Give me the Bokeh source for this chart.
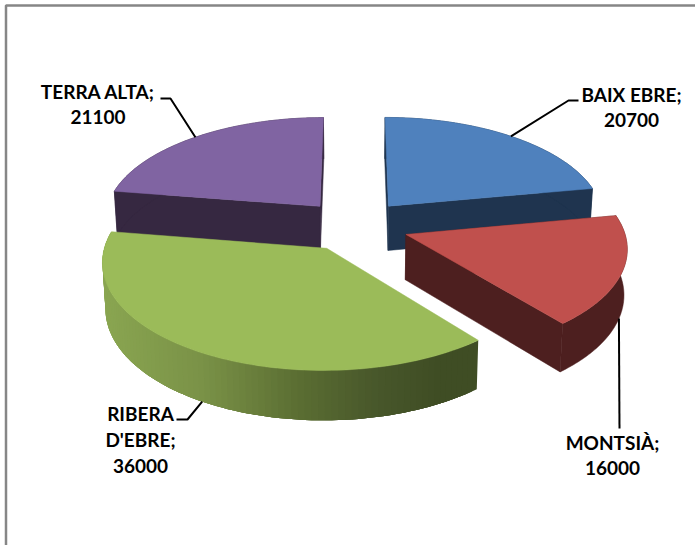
import numpy as np
from bokeh.plotting import figure
from bokeh.embed import file_html
from bokeh.resources import INLINE
from bokeh.core.properties import value
from bokeh.models import Range1d

# --- data
zones = ["BAIX EBRE", "MONTSIÀ", "RIBERA D'EBRE", "TERRA ALTA"]
amounts = [20700, 16000, 36000, 21100]
label_lines = [["BAIX EBRE;", "20700"], ["MONTSIÀ;", "16000"],
               ["RIBERA", "D'EBRE;", "36000"], ["TERRA ALTA;", "21100"]]

# --- style
top_cols = ["#4f81bd", "#c0504d", "#9bbb59", "#8064a2"]
side_cols = ["#1f344f", "#4d1f1f", None, "#362841"]
green_ramp_x = [100, 200, 300, 380, 440, 480]
green_ramp_rgb = [(138, 166, 81), (122, 146, 71), (90, 109, 50), (71, 86, 42), (63, 77, 36), (63, 77, 36)]

# --- layout of the 3D projection (pixels)
XC, YC, A, B, K, EXPL = 354.0, 225.0, 217.0, 102.8, 0.1126, 0.25
HEIGHT, BOT_SCALE = 45.0, 0.988
label_xy = [(631, [94, 119]), (612, [442, 467]), (140, [413, 439, 465]), (97.5, [91, 116])]
elbows = [[(568, 100), (578, 100)], [(619, 428)], [(187, 419), (176, 419)], [(170, 98), (160, 98)]]
leader_on_bottom = [False, True, True, False]

total = sum(amounts)
fracs = np.array(amounts) / total
edges = np.concatenate([[0], np.cumsum(fracs)]) * 2 * np.pi


def project(theta, rad, mid, bottom=False):
    u = EXPL * np.sin(mid) + rad * np.sin(theta)
    v = EXPL * np.cos(mid) + rad * np.cos(theta)
    s = 1 / (1 + K * v)
    x = A * u * s
    y = YC - B * v * s
    if bottom:
        return XC + x * BOT_SCALE, y + HEIGHT * s ** 0.7
    return XC + x, y


p = figure(width=695, height=545, output_backend="svg", toolbar_location=None,
           x_range=Range1d(0, 695), y_range=Range1d(545, 0), min_border=0,
           outline_line_color=None, background_fill_color="white")
p.axis.visible = False
p.grid.visible = False

# chart frame
p.line([5.5, 5.5, 695], [545, 5, 5], line_color="#868686", line_width=2.5)


def green_col(x):
    c = [np.interp(x, green_ramp_x, [r[i] for r in green_ramp_rgb]) for i in range(3)]
    return "#%02x%02x%02x" % tuple(int(round(v)) for v in c)


for i in [3, 0, 1, 2]:
    t0, t1 = edges[i], edges[i + 1]
    mid = (t0 + t1) / 2
    ts = np.linspace(t0, t1, 90)
    xt, yt = project(ts, 1.0, mid)
    xb, yb = project(ts, 1.0, mid, bottom=True)
    ax, ay = project(mid, 0.0, mid)
    bx, by = project(mid, 0.0, mid, bottom=True)
    if side_cols[i]:
        c = side_cols[i]
        for k in (0, -1):
            p.patch([ax, xt[k], xb[k], bx], [ay, yt[k], yb[k], by], fill_color=c, line_color=c, line_width=0.5)
        p.patch(list(xt) + list(xb[::-1]), list(yt) + list(yb[::-1]), fill_color=c, line_color=c, line_width=0.5)
    else:
        # overlapping strips so that no seams show through
        n = len(ts)
        for j in range(n - 1):
            e = min(j + 4, n - 1)
            c = green_col((xt[j] + xt[j + 1]) / 2)
            p.patch(list(xt[j:e + 1]) + list(xb[j:e + 1][::-1]), list(yt[j:e + 1]) + list(yb[j:e + 1][::-1]),
                    fill_color=c, line_color=None)
    p.patch([ax] + list(xt), [ay] + list(yt), fill_color=top_cols[i], line_color=top_cols[i], line_width=0.5)

    lx, ly = project(mid, 1.0, mid, bottom=leader_on_bottom[i])
    pts = [(float(lx), float(ly))] + elbows[i]
    p.line([q[0] for q in pts], [q[1] for q in pts], line_color="black", line_width=2)

    tx, tys = label_xy[i]
    p.text([tx] * len(tys), tys, text=label_lines[i], text_font=value("Lato"), text_font_style="bold",
           text_font_size="19px", text_align="center", text_baseline="middle", text_color="black")

open("out.html", "w").write(file_html(p, INLINE))
